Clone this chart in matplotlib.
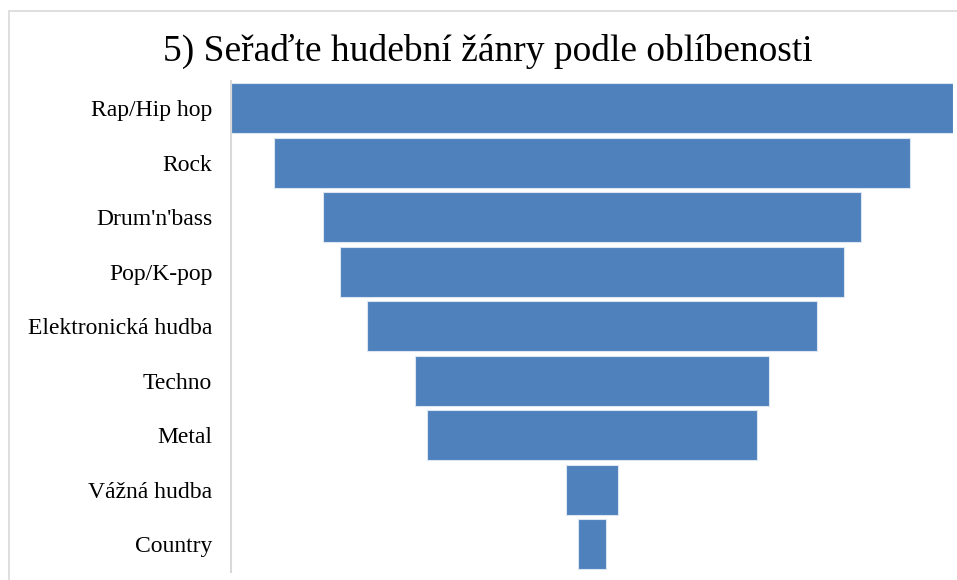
import matplotlib.pyplot as plt
from matplotlib.patches import Rectangle

# Funnel chart: genres ranked by popularity
genres = ["Rap/Hip hop", "Rock", "Drum'n'bass", "Pop/K-pop", "Elektronická hudba",
          "Techno", "Metal", "Vážná hudba", "Country"]
scores = [100, 88, 74.4, 69.7, 62.2, 48.9, 45.6, 7.1, 3.9]

plt.rcParams['font.family'] = ['Liberation Serif', 'DejaVu Serif']

fig = plt.figure(figsize=(9.57, 5.8), dpi=100)
ax = fig.add_axes([231 / 957, 8.5 / 580, 722 / 957, 490.5 / 580])

top = max(scores)
spacer = [(top - s) / 2 for s in scores]
ypos = list(range(len(genres)))
ax.barh(ypos, scores, left=spacer, height=0.92, color='#4f81bd',
        edgecolor='#dce6f2', linewidth=0.8)

ax.set_xlim(0, top)
ax.set_ylim(len(genres) - 0.5, -0.5)
ax.set_yticks(ypos)
ax.set_yticklabels(genres, fontsize=17)
ax.tick_params(axis='y', length=0, pad=13.5)
ax.set_xticks([])
for s in ['top', 'right', 'bottom']:
    ax.spines[s].set_visible(False)
ax.spines['left'].set_color('#d9d9d9')
ax.spines['left'].set_linewidth(1.5)

fig.text(488 / 957, 1 - 51 / 580, "5) Seřaďte hudební žánry podle oblíbenosti",
         fontsize=27, ha='center', va='center')

# light chart border (right and bottom edges fall outside the picture)
fig.patches.append(Rectangle((9 / 957, -0.1), 1.0, 1.1 - 11 / 580,
                             transform=fig.transFigure, fill=False,
                             edgecolor='#d9d9d9', linewidth=1.2))

plt.savefig("out.png", dpi=100)
